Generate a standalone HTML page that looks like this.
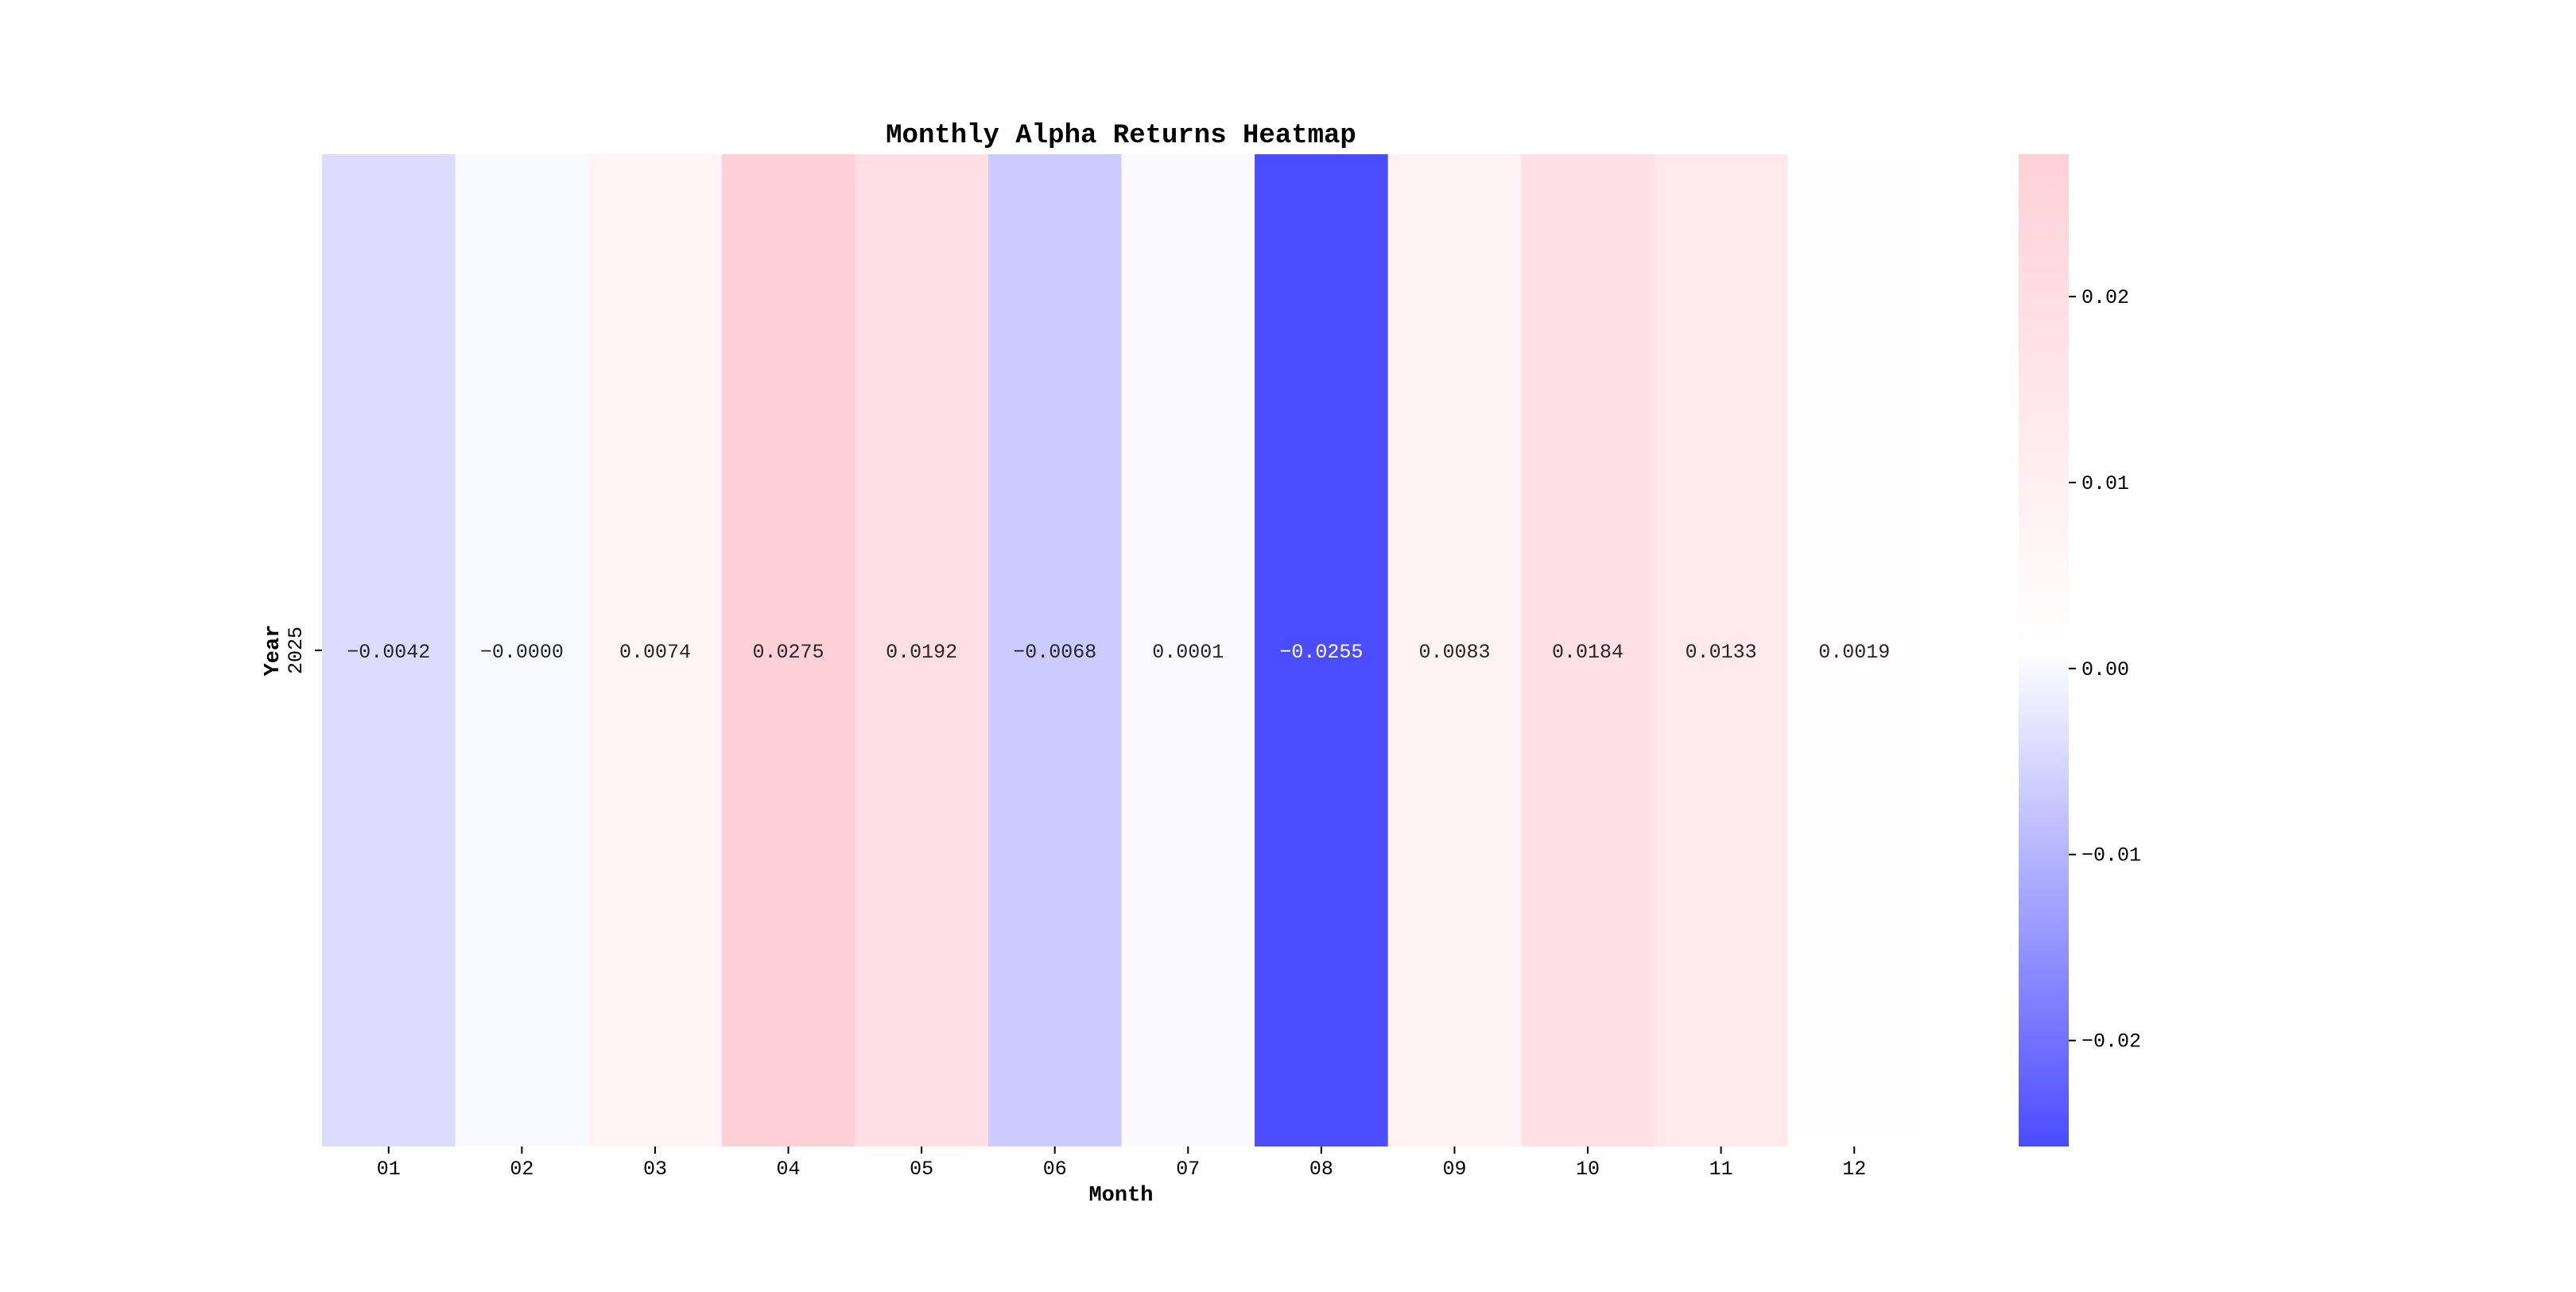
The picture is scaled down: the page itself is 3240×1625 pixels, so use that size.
<!DOCTYPE html>
<html><head><meta charset="utf-8"><style>
html,body{margin:0;padding:0;background:#fff;}
svg text{font-family:"Liberation Mono","WenQuanYi Zen Hei",monospace;}
</style></head><body>
<svg id="chart" width="3240" height="1620" xmlns="http://www.w3.org/2000/svg">
<defs><linearGradient id="cbgrad" x1="0" y1="1" x2="0" y2="0">
<stop offset="0" stop-color="rgb(75,75,255)"/><stop offset="0.5" stop-color="#ffffff"/><stop offset="1" stop-color="rgb(255,208,216)"/>
</linearGradient></defs>
<text x="1410" y="179" font-size="34" font-weight="bold" text-anchor="middle">Monthly Alpha Returns Heatmap</text>
<g id="cells"></g>
<g id="xticks"></g>
<text x="1410" y="1510" font-size="27" font-weight="bold" text-anchor="middle">Month</text>
<line x1="396" y1="818" x2="405" y2="818" stroke="#000" stroke-width="2"/>
<text x="382" y="818" font-size="25" text-anchor="middle" transform="rotate(-90 382 818)" dy="-3">2025</text>
<text x="350" y="818" font-size="27" font-weight="bold" text-anchor="middle" transform="rotate(-90 350 818)">Year</text>
<rect x="2539" y="194" width="63" height="1248" fill="url(#cbgrad)"/>
<g id="cbticks"></g>
</svg>
<script>
const months = ["01","02","03","04","05","06","07","08","09","10","11","12"];
const years = ["2025"];
const values = [-0.0042,-0.0000,0.0074,0.0275,0.0192,-0.0068,0.0001,-0.0255,0.0083,0.0184,0.0133,0.0019];
const labels = ["\u22120.0042","\u22120.0000","0.0074","0.0275","0.0192","\u22120.0068","0.0001","\u22120.0255","0.0083","0.0184","0.0133","0.0019"];
const cbTicks = [-0.02,-0.01,0.00,0.01,0.02];
const cbTickLabels = ["\u22120.02","\u22120.01","0.00","0.01","0.02"];
const vmin = -0.0257, vmax = 0.02765;

const NS="http://www.w3.org/2000/svg";
const L=405,R=2416,T=194,B=1442;
const cw=(R-L)/months.length;
function xpos(i){return L+i*cw;}
function cbY(v){return B-(v-vmin)/(vmax-vmin)*(B-T);}
function color(v){
  let t=(v-vmin)/(vmax-vmin); t=Math.max(0,Math.min(1,t));
  let a,b,s;
  if(t<0.5){a=[75,75,255];b=[255,255,255];s=t/0.5;}else{a=[255,255,255];b=[255,208,216];s=(t-0.5)/0.5;}
  return "rgb("+a.map((c,k)=>Math.round(c+(b[k]-c)*s)).join(",")+")";
}
function lum(v){let t=(v-vmin)/(vmax-vmin);return t<0.2;}
const cells=document.getElementById('cells'), xt=document.getElementById('xticks'), cb=document.getElementById('cbticks');
values.forEach((v,i)=>{
  const r=document.createElementNS(NS,'rect');
  
  
  r.setAttribute('x',xpos(i));r.setAttribute('y',T);r.setAttribute('width',cw+0.5);r.setAttribute('height',B-T);
  r.setAttribute('fill',color(v));cells.appendChild(r);
  const t=document.createElementNS(NS,'text');
  
  
  t.setAttribute('x',xpos(i)+cw/2);t.setAttribute('y',827);t.setAttribute('font-size','25');t.setAttribute('text-anchor','middle');
  t.setAttribute('fill',lum(v)?'#fff':'#262626');t.textContent=labels[i];cells.appendChild(t);
});
months.forEach((m,i)=>{
  const cx=xpos(i)+cw/2;
  const l=document.createElementNS(NS,'line');
  
  
  l.setAttribute('x1',cx);l.setAttribute('x2',cx);l.setAttribute('y1',B);l.setAttribute('y2',B+9);l.setAttribute('stroke','#000');l.setAttribute('stroke-width','2');xt.appendChild(l);
  const t=document.createElementNS(NS,'text');
  
  
  t.setAttribute('x',cx);t.setAttribute('y',1477);t.setAttribute('font-size','25');t.setAttribute('text-anchor','middle');t.textContent=m;xt.appendChild(t);
});
cbTicks.forEach((v,i)=>{
  const y=cbY(v);
  const l=document.createElementNS(NS,'line');
  
  
  l.setAttribute('x1',2602);l.setAttribute('x2',2611);l.setAttribute('y1',y);l.setAttribute('y2',y);l.setAttribute('stroke','#000');l.setAttribute('stroke-width','2');cb.appendChild(l);
  const t=document.createElementNS(NS,'text');
  
  
  t.setAttribute('x',2618);t.setAttribute('y',y+8);t.setAttribute('font-size','25');t.textContent=cbTickLabels[i];cb.appendChild(t);
});
</script>
</body></html>
